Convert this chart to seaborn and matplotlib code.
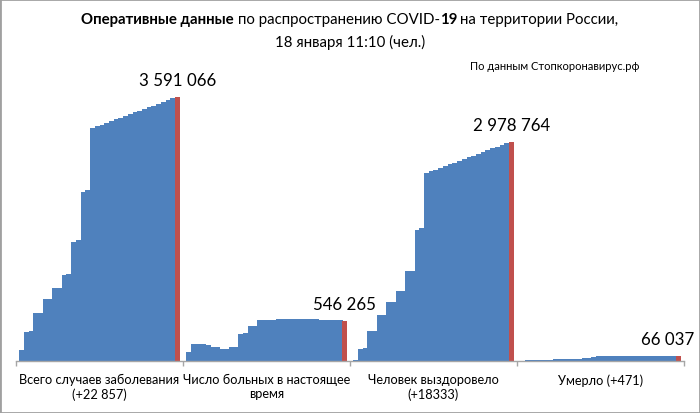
import numpy as np
import pandas as pd
import matplotlib
matplotlib.use("Agg")
import matplotlib.pyplot as plt
import seaborn as sns
from matplotlib.patches import Rectangle

categories = ["Всего случаев заболевания\n(+22 857)",
              "Число больных в настоящее\nвремя",
              "Человек выздоровело\n(+18333)",
              "Умерло (+471)"]

cases = [145000, 396000, 405000, 645000, 652000, 834000, 840000, 990000, 995000,
         1170000, 1178000, 1618000, 1636000, 2300000, 2323000,
         3159000, 3186000, 3212000, 3236000, 3260000, 3284000, 3308000, 3332000,
         3355000, 3379000, 3402000, 3425000, 3448000, 3471000, 3495000, 3520000,
         3544000, 3568209, 3591066]

active = [125000, 231000, 227000, 222000, 213000, 190000, 181000, 163000, 159000,
          186000, 190000, 363000, 372000, 466000, 472000,
          548000, 552000, 556000, 559000, 562000, 564000, 565000, 566000,
          566000, 566000, 565000, 564000, 562000, 560000, 557000, 554000,
          551000, 549000, 546265]

recovered = [15000, 165000, 171000, 398000, 410000, 616000, 628000, 793000, 800000,
             943000, 950000, 1215000, 1225000, 1780000, 1800000,
             2549000, 2574000, 2599000, 2623000, 2646000, 2670000, 2693000, 2717000,
             2741000, 2766000, 2791000, 2816000, 2841000, 2865000, 2889000, 2913000,
             2937000, 2960431, 2978764]

deaths = [1200, 4700, 4800, 9500, 9700, 14000, 14100, 17000, 17100,
          20800, 21000, 27000, 27300, 40500, 41100,
          57000, 57500, 58000, 58500, 59000, 59500, 60000, 60600,
          61100, 61600, 62100, 62600, 63100, 63600, 64100, 64600,
          65100, 65566, 66037]

title_line1 = [("Оперативные данные", "bold"), ("по распространению COVID-", "normal"),
               ("19", "bold"), ("на территории России,", "normal")]
title_line2 = "18 января 11:10 (чел.)"
source_note = "По данным Стопкоронавирус.рф"

BLUE = "#4F81BD"
RED = "#C0504D"
GREY = "#A6A6A6"

plt.rcParams['font.family'] = ['Lato', 'DejaVu Sans']

n = len(cases)
days = [f"d{i:02d}" for i in range(n)]
df = pd.DataFrame({
    "category": np.repeat(categories, n),
    "day": days * 4,
    "value": cases + active + recovered + deaths,
})
palette = {d: BLUE for d in days}
palette[days[-1]] = RED

W, H = 700, 414
fig = plt.figure(figsize=(W / 100, H / 100), dpi=100)
ax = fig.add_axes([16 / W, 52.3 / H, 668 / W, 301.7 / H])

sns.barplot(data=df, x="category", y="value", hue="day", order=categories,
            hue_order=days, palette=palette, width=0.961, dodge=True,
            saturation=1, linewidth=0, legend=False, errorbar=None, ax=ax)

# avoid seams between adjacent bars: slight overlap to the right
for i, cont in enumerate(ax.containers):
    for p in cont:
        p.set_linewidth(0)
        p.set_antialiased(False)
        if i < len(ax.containers) - 1:
            p.set_width(p.get_width() * 1.15)

ax.set_xlim(-0.5, 3.5)
ax.set_ylim(0, 301.7 * 13602)
ax.set_yticks([])
ax.set_xlabel("")
ax.set_ylabel("")
for s in ["left", "top", "right"]:
    ax.spines[s].set_visible(False)
ax.spines["bottom"].set_color(GREY)
ax.spines["bottom"].set_linewidth(1)
ax.spines["bottom"].set_zorder(5)
ax.set_xticks([-0.5, 0.5, 1.5, 2.5, 3.5], minor=True)
ax.tick_params(axis="x", which="minor", length=3.3, color=GREY, width=1, direction="out")
ax.tick_params(axis="x", which="major", length=0, pad=9, labelsize=9.2, labelcolor="black")
ax.set_facecolor("white")

# data labels on the last (red) bars
last = ax.containers[-1]
offsets = [(0, 12), (0, 12), (0, 12), (-7.6, 12)]
for rect, (dx, dy) in zip(last, offsets):
    v = rect.get_height()
    lab = f"{int(round(v)):,}".replace(",", " ")
    ax.annotate(lab, xy=(rect.get_x() + rect.get_width() / 2, v),
                xytext=(dx, dy), textcoords="offset points",
                ha="center", va="center", fontsize=12.2, color="black")

# title with mixed bold/regular pieces
fig.canvas.draw()
r = fig.canvas.get_renderer()
size = 10.8
def wid(s, w):
    t = fig.text(0, 0, s, fontsize=size, fontweight=w)
    e = t.get_window_extent(r).width
    t.remove()
    return e
space = wid("x x", "normal") - wid("xx", "normal")
widths = [wid(s, w) for s, w in title_line1]
gaps = [space, 0, space * 0.8]
total = sum(widths) + sum(gaps)
x = (W - total) / 2
y1 = 1 - 20 / H
for i, (s, w) in enumerate(title_line1):
    fig.text(x / W, y1, s, fontsize=size, fontweight=w, ha="left", va="center")
    x += widths[i] + (gaps[i] if i < len(gaps) else 0)
fig.text(0.5, 1 - 42 / H, title_line2, fontsize=size, ha="center", va="center")
fig.text(640 / W, 1 - 66 / H, source_note, fontsize=8, ha="right", va="center")

fig.add_artist(Rectangle((0, 0), 1, 1, transform=fig.transFigure, fill=False,
                         edgecolor="#A0A0A0", linewidth=2))

fig.savefig("out.png", dpi=100, facecolor="white")
